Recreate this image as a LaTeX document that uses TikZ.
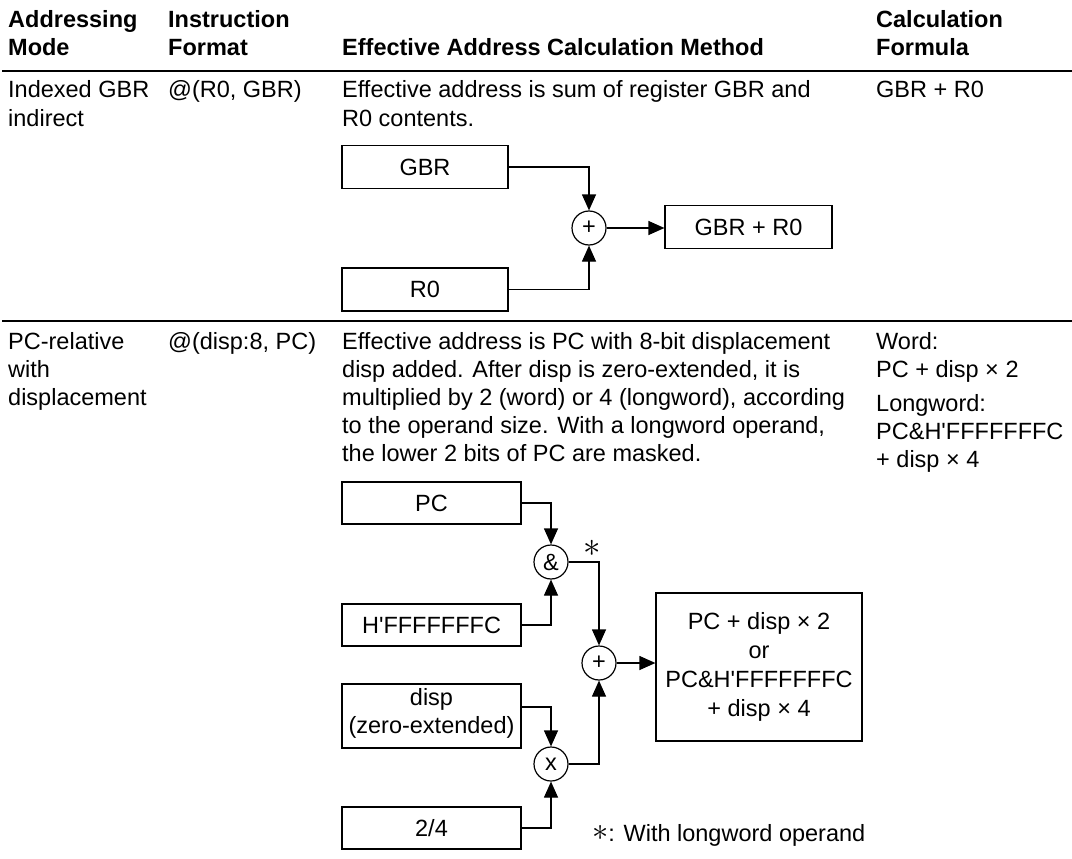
\documentclass[tikz,border=0pt]{standalone}
\usepackage{fontspec}
\newfontfamily\arial{Liberation Sans}
\usetikzlibrary{arrows.meta,calc}
\begin{document}
\begin{tikzpicture}[x=1pt,y=-1pt,
  every node/.style={font=\arial\fontsize{23.5}{28}\selectfont},
  txt/.style={anchor=base west, inner sep=0pt},
  hdr/.style={anchor=base west, inner sep=0pt, font=\arial\fontsize{23.5}{28}\selectfont\bfseries},
  box/.style={draw, line width=1.2pt, inner sep=0pt, align=center},
  op/.style={draw, circle, line width=1.2pt, minimum size=34pt, inner sep=0pt},
  conn/.style={line width=1.2pt, -{Triangle[length=16pt,width=14pt]}},
  thickrule/.style={line width=2.6pt},
  thinrule/.style={line width=1.3pt},
]
\useasboundingbox (0,0) rectangle (1072,859);
\fill[white] (0,0) rectangle (1072,859);

% header
\node[hdr] (h1a) at (8,28) {Addressing};
\node[hdr] (h1b) at (8,56) {Mode};
\node[hdr] (h2a) at (168,28) {Instruction};
\node[hdr] (h2b) at (168,56) {Format};
\node[hdr] (h3) at (342,56) {Effective Address Calculation Method};
\node[hdr] (h4a) at (876,28) {Calculation};
\node[hdr] (h4b) at (876,56) {Formula};
\coordinate (r1l) at (2,71);
\coordinate (r1r) at (1072,71);
\draw[thickrule] (r1l) -- (r1r);

% row 1
\node[txt] (m1a) at (8,98) {Indexed GBR};
\node[txt] (m1b) at (8,126) {indirect};
\node[txt] (f1) at (168,98) {@(R0, GBR)};
\node[txt] (d1a) at (342,98) {Effective address is sum of register GBR and};
\node[txt] (d1b) at (342,126) {R0 contents.};
\node[txt] (c1) at (876,98) {GBR + R0};

\node[box, minimum width=166pt, minimum height=43pt] (gbr) at (425,167) {GBR};
\node[box, minimum width=166pt, minimum height=43pt] (r0) at (425,289.5) {R0};
\node[op] (add1) at (589,228) {+};
\node[box, minimum width=167pt, minimum height=43pt] (res1) at (748.5,227) {GBR + R0};
\draw[conn] (gbr.east) -| (add1.north);
\draw[conn] (r0.east) -| (add1.south);
\draw[conn] (add1.east) -- (add1 -| res1.west);

\coordinate (r2l) at (2,321);
\coordinate (r2r) at (1072,321);
\draw[thinrule] (r2l) -- (r2r);

% row 2
\node[txt] (m2a) at (8,349) {PC-relative};
\node[txt] (m2b) at (8,377) {with};
\node[txt] (m2c) at (8,405) {displacement};
\node[txt] (f2) at (168,349) {@(disp:8, PC)};
\node[txt] (d2a) at (342,349) {Effective address is PC with 8-bit displacement};
\node[txt] (d2b) at (342,377) {disp added. After disp is zero-extended, it is};
\node[txt] (d2c) at (342,405) {multiplied by 2 (word) or 4 (longword), according};
\node[txt] (d2d) at (342,433) {to the operand size. With a longword operand,};
\node[txt] (d2e) at (342,461) {the lower 2 bits of PC are masked.};
\node[txt] (c2a) at (876,349) {Word:};
\node[txt] (c2b) at (876,377) {PC + disp × 2};
\node[txt] (c2c) at (876,411) {Longword:};
\node[txt] (c2d) at (876,439) {PC\&H'FFFFFFFC};
\node[txt] (c2e) at (876,467) {+ disp × 4};

\node[box, minimum width=179pt, minimum height=42pt] (pc) at (431.5,503) {PC};
\node[box, minimum width=179pt, minimum height=42pt] (hf) at (431.5,625) {H'FFFFFFFC};
\node[box, minimum width=179pt, minimum height=64pt] (disp) at (431.5,716) {};
\node[anchor=base, inner sep=0pt] (dispt1) at (431.5,705) {disp};
\node[anchor=base, inner sep=0pt] (dispt2) at (431.5,733) {(zero-extended)};
\node[box, minimum width=179pt, minimum height=42pt] (two4) at (431.5,828) {2/4};
\node[op] (and) at (551,562) {\&};
\node[op] (mul) at (551,764) {x};
\node[op] (add2) at (599,663) {+};
\node[box, minimum width=206pt, minimum height=148pt,
      font=\arial\fontsize{23.5}{29}\selectfont] (res2) at (759,667)
  {PC + disp × 2\\or\\PC\&H'FFFFFFFC\\+ disp × 4};
\node[inner sep=0pt, scale=1.4] (star) at (592,548) {$\ast$};
\node[txt] (note) at (592,841) {\raisebox{1pt}{\scalebox{1.3}{$\ast$}}: With longword operand};

\coordinate (dispout) at ($(disp.east)+(0,-9)$);
\draw[conn] (pc.east) -| (and.north);
\draw[conn] (hf.east) -| (and.south);
\draw[conn] (and.east) -| (add2.north);
\draw[conn] (dispout) -| (mul.north);
\draw[conn] (two4.east) -| (mul.south);
\draw[conn] (mul.east) -| (add2.south);
\draw[conn] (add2.east) -- (add2 -| res2.west);
\end{tikzpicture}
\end{document}
